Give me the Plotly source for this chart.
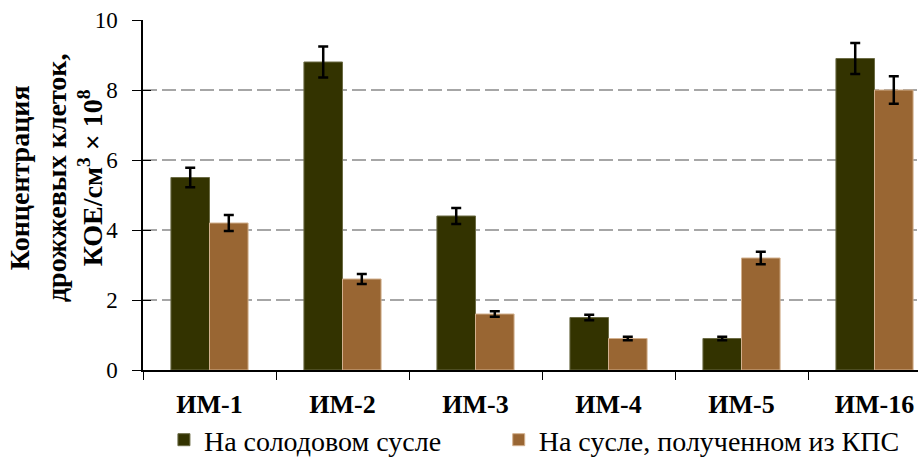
import plotly.graph_objects as go

categories = ["ИМ-1", "ИМ-2", "ИМ-3", "ИМ-4", "ИМ-5", "ИМ-16"]
series_names = ["На солодовом сусле", "На сусле, полученном из КПС"]
malt_values = [5.5, 8.8, 4.4, 1.5, 0.9, 8.9]
malt_errors = [0.28, 0.44, 0.23, 0.08, 0.05, 0.44]
kps_values = [4.2, 2.6, 1.6, 0.9, 3.2, 8.0]
kps_errors = [0.23, 0.14, 0.08, 0.05, 0.18, 0.39]
y_ticks = [0, 2, 4, 6, 8, 10]
y_title = "Концентрация<br>дрожжевых клеток,<br>КОЕ/см<sup>3</sup> × 10<sup>8</sup>"

SERIF = "Liberation Serif"

fig = go.Figure()
fig.add_trace(go.Bar(
    name=series_names[0], x=categories, y=malt_values, legend="legend",
    marker=dict(color="#333300", line=dict(color="#6b6b45", width=1)),
    error_y=dict(type="data", array=malt_errors, color="black", thickness=2.5, width=5),
))
fig.add_trace(go.Bar(
    name=series_names[1], x=categories, y=kps_values, legend="legend2",
    marker=dict(color="#996633", line=dict(color="#d2b08e", width=1)),
    error_y=dict(type="data", array=kps_errors, color="black", thickness=2.5, width=5),
))
# invisible helper trace for the inner half of the crossing y ticks
fig.add_trace(go.Scatter(
    x=categories, y=malt_values, yaxis="y2", mode="markers",
    marker=dict(opacity=0), showlegend=False, hoverinfo="skip",
))

legend_style = dict(
    orientation="h", y=-0.2, xanchor="left", yanchor="middle",
    font=dict(family=SERIF, size=28, color="black"),
    itemclick=False, itemdoubleclick=False, bgcolor="rgba(0,0,0,0)",
)

fig.update_layout(
    width=918, height=457,
    margin=dict(l=143, r=0, t=20, b=87, autoexpand=False),
    paper_bgcolor="white", plot_bgcolor="white",
    barmode="group", bargap=0.42, bargroupgap=0,
    font=dict(family=SERIF, color="black", size=22),
    showlegend=True,
    legend=dict(x=0.027, **legend_style),
    legend2=dict(x=0.459, **legend_style),
    xaxis=dict(
        type="category", range=[-0.5, 5.327],
        tickson="boundaries", ticks="outside", ticklen=8, tickwidth=1, tickcolor="black",
        showline=True, linecolor="black", linewidth=1.5,
        tickfont=dict(family=SERIF, size=26, color="black", weight="bold"),
        ticklabelstandoff=10,
        showgrid=False, fixedrange=True,
    ),
    yaxis=dict(
        range=[0, 10], tickvals=y_ticks, ticks="outside", ticklen=9, tickwidth=1, tickcolor="black",
        showline=True, linecolor="black", linewidth=1.5,
        showgrid=True, gridcolor="#a6a6a6", gridwidth=1.5, griddash="14px,5px",
        zeroline=False,
        tickfont=dict(family=SERIF, size=23, color="black"),
        ticklabelstandoff=10,
        fixedrange=True,
    ),
    yaxis2=dict(
        overlaying="y", side="left", range=[0, 10], tickvals=y_ticks,
        ticks="inside", ticklen=8, tickwidth=1, tickcolor="black",
        showticklabels=False, showgrid=False, showline=False, zeroline=False,
        fixedrange=True,
    ),
    annotations=[dict(
        text=y_title, textangle=-90, showarrow=False,
        xref="paper", yref="paper", x=-0.112, y=0.549,
        xanchor="center", yanchor="middle", align="center",
        font=dict(family=SERIF, size=28, color="black", weight="bold"),
    )],
)

fig.write_html("out.html", config={"displayModeBar": False},
               post_script="document.body.style.margin='0px';")
